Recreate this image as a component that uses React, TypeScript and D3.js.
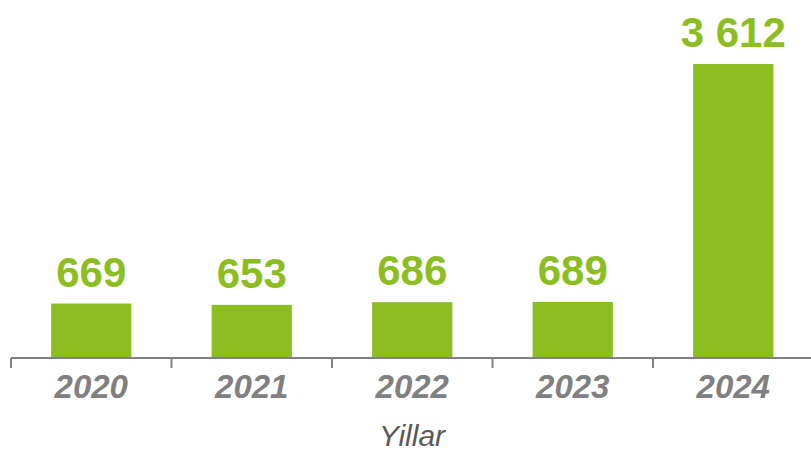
import React from "react";
import * as d3 from "d3";

const years = ["2020", "2021", "2022", "2023", "2024"];
const values = [669, 653, 686, 689, 3612];
const labels = ["669", "653", "686", "689", "3 612"];
const axisTitle = "Yillar";

const W = 811;
const H = 453;
const GREEN = "#8CBE22";
const GRAY = "#808080";

export default function App() {
  const x0 = 11;
  const step = 160.5;
  const x = d3
    .scaleBand<string>()
    .domain(years)
    .range([x0, x0 + step * years.length])
    .paddingInner(0.5)
    .paddingOuter(0.25);
  const y = d3.scaleLinear().domain([0, 3612]).range([358, 64]);
  const baseY = y(0);
  const font = "'Liberation Sans', Arial, sans-serif";
  const tickXs = years.map((_, i) => x0 + i * x.step());

  return (
    <svg
      width={W}
      height={H}
      style={{ position: "absolute", left: 0, top: 0, background: "#fff" }}
    >
      {years.map((yr, i) => (
        <rect
          key={yr}
          x={x(yr)!}
          y={y(values[i])}
          width={x.bandwidth()}
          height={baseY - y(values[i])}
          fill={GREEN}
        />
      ))}
      {years.map((yr, i) => (
        <text
          key={"l" + yr}
          x={x(yr)! + x.bandwidth() / 2}
          y={y(values[i]) - 17}
          textAnchor="middle"
          fontFamily={font}
          fontWeight="bold"
          fontSize={42}
          fill={GREEN}
        >
          {labels[i]}
        </text>
      ))}
      <line x1={x0} x2={W} y1={baseY} y2={baseY} stroke={GRAY} strokeWidth={2} />
      {tickXs.map((tx, i) => (
        <line
          key={"t" + i}
          x1={tx}
          x2={tx}
          y1={baseY}
          y2={baseY + 10}
          stroke={GRAY}
          strokeWidth={2}
        />
      ))}
      {years.map((yr) => (
        <text
          key={"x" + yr}
          x={x(yr)! + x.bandwidth() / 2}
          y={398}
          textAnchor="middle"
          fontFamily={font}
          fontWeight="bold"
          fontStyle="italic"
          fontSize={33}
          fill={GRAY}
        >
          {yr}
        </text>
      ))}
      <text
        x={412}
        y={446}
        textAnchor="middle"
        fontFamily={font}
        fontStyle="italic"
        fontSize={30}
        fill="#595959"
      >
        {axisTitle}
      </text>
    </svg>
  );
}
